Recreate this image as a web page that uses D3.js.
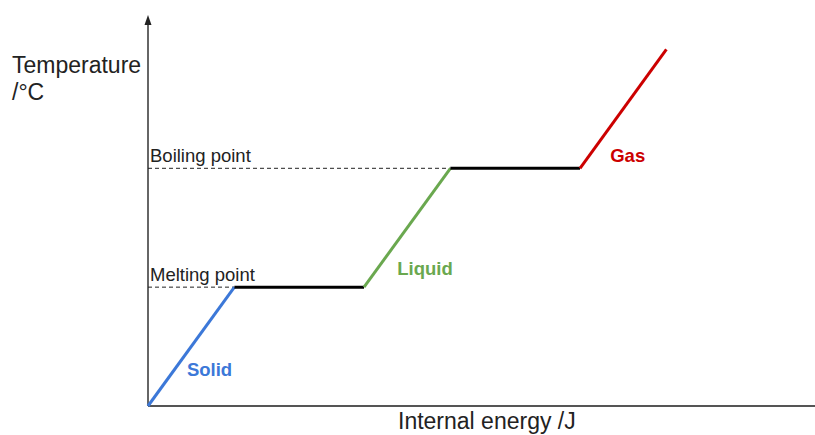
<!DOCTYPE html>
<html>
<head>
<meta charset="utf-8">
<script src="https://cdn.jsdelivr.net/npm/d3@7"></script>
<style>
  body { margin: 0; background: #fff; }
  svg { font-family: Arial, "Liberation Sans", sans-serif; }
</style>
</head>
<body>
<svg width="815" height="435"></svg>
<script>
var svg = d3.select("svg");

// heating curve, energy in arbitrary units, temperature in steps
var energy = [0, 2, 5, 7, 10, 12];
var temperature = [0, 1, 1, 2, 2, 3];
var phases = [
    {name: "Solid", from: 0, color: "#3c78d8", label: [0.9, 0.25]},
    {name: "", from: 1, color: "#000000"},
    {name: "Liquid", from: 2, color: "#6aa84f", label: [5.77, 1.1]},
    {name: "", from: 3, color: "#000000"},
    {name: "Gas", from: 4, color: "#cc0000", label: [10.7, 2.05]}
];
var levels = [
    {name: "Melting point", t: 1, e: 2},
    {name: "Boiling point", t: 2, e: 7}
];

var x = d3.scaleLinear().domain([0, 15.44]).range([148, 815]);
var y = d3.scaleLinear().domain([0, 3.29]).range([406, 15]);

// axes
svg.append("line")
    .attr("x1", x(0)).attr("x2", x(15.44))
    .attr("y1", y(0)).attr("y2", y(0))
    .attr("stroke", "#555").attr("stroke-width", 2);
svg.append("line")
    .attr("x1", x(0)).attr("x2", x(0))
    .attr("y1", y(0)).attr("y2", y(3.29) + 8)
    .attr("stroke", "#333").attr("stroke-width", 1.5);
svg.append("path")
    .attr("d", "M" + (x(0) - 3.5) + "," + (y(3.29) + 10) + "L" + x(0) + "," + y(3.29) + "L" + (x(0) + 3.5) + "," + (y(3.29) + 10) + "Z")
    .attr("fill", "#222");

// dashed guide lines
svg.selectAll(".guide")
    .data(levels)
    .enter().append("line")
    .attr("class", "guide")
    .attr("x1", x(0)).attr("x2", d => x(d.e))
    .attr("y1", d => y(d.t)).attr("y2", d => y(d.t))
    .attr("stroke", "#222").attr("stroke-width", 1)
    .attr("stroke-dasharray", "4,3");

svg.selectAll(".level-label")
    .data(levels)
    .enter().append("text")
    .attr("x", x(0) + 2)
    .attr("y", d => y(d.t) - 6)
    .attr("font-size", 18.5)
    .attr("fill", "#222")
    .text(d => d.name);

// curve segments
svg.selectAll(".seg")
    .data(phases)
    .enter().append("line")
    .attr("class", "seg")
    .attr("x1", d => x(energy[d.from])).attr("y1", d => y(temperature[d.from]))
    .attr("x2", d => x(energy[d.from + 1])).attr("y2", d => y(temperature[d.from + 1]))
    .attr("stroke", d => d.color)
    .attr("stroke-width", 3);

svg.selectAll(".phase-label")
    .data(phases.filter(d => d.name))
    .enter().append("text")
    .attr("x", d => x(d.label[0]))
    .attr("y", d => y(d.label[1]))
    .attr("font-size", 18.5)
    .attr("font-weight", "bold")
    .attr("fill", d => d.color)
    .text(d => d.name);

// axis titles
svg.append("text")
    .attr("x", 12).attr("y", 73)
    .attr("font-size", 23).attr("fill", "#222")
    .text("Temperature");
svg.append("text")
    .attr("x", 12).attr("y", 100)
    .attr("font-size", 23).attr("fill", "#222")
    .text("/°C");
svg.append("text")
    .attr("x", 398).attr("y", 429)
    .attr("font-size", 23).attr("fill", "#222")
    .text("Internal energy /J");
</script>
</body>
</html>
